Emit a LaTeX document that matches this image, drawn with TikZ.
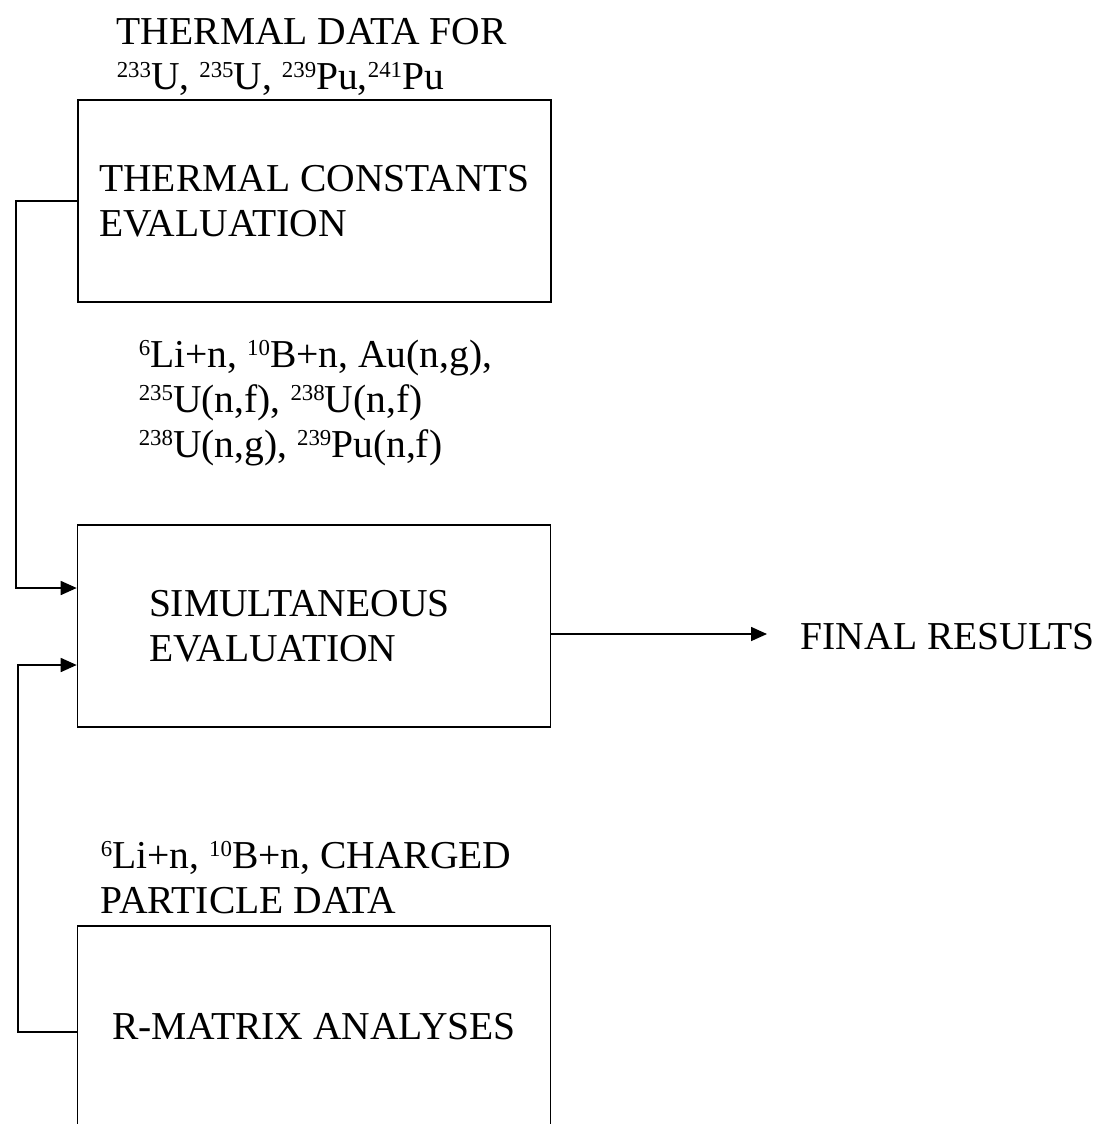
\documentclass[tikz,border=0pt]{standalone}
\usepackage{fontspec}
\setmainfont{Liberation Serif}
\usetikzlibrary{arrows.meta, positioning, calc}

\newcommand{\iso}[1]{\raisebox{6.5pt}{\fontsize{13}{13}\selectfont #1}}

\begin{document}
\begin{tikzpicture}[>={Triangle[length=0.32cm, width=0.28cm]}, line width=0.9pt,
    box/.style={draw, minimum width=9.46cm, minimum height=4.04cm, align=left,
                font=\fontsize{22.5}{25.6}\selectfont},
    lbl/.style={align=left, inner sep=0pt, anchor=base west,
                font=\fontsize{22.5}{25.6}\selectfont}]
  \useasboundingbox (0,0) rectangle (22.08,-22.48);

  % Evaluation boxes
  \node[box] (thermal) at (6.29,-4.02) {THERMAL CONSTANTS\\EVALUATION};
  \node[box, text width=6.6cm] (simul) at (6.28,-12.52) {SIMULTANEOUS\\EVALUATION};
  \node[box] (rmatrix) at (6.28,-20.54) {R-MATRIX ANALYSES};

  % Input data above the boxes (anchored at the last line)
  \node[lbl] (thdata) at (2.32,-1.78)
    {THERMAL DATA FOR\\\iso{233}U, \iso{235}U, \iso{239}Pu,\iso{241}Pu};
  \node[lbl] (stddata) at (2.76,-9.14)
    {\iso{6}Li+n, \iso{10}B+n, Au(n,g),\\\iso{235}U(n,f), \iso{238}U(n,f)\\\iso{238}U(n,g), \iso{239}Pu(n,f)};
  \node[lbl] (cpdata) at (2.00,-18.26)
    {\iso{6}Li+n, \iso{10}B+n, CHARGED\\PARTICLE DATA};

  % Output
  \node[lbl, anchor=west] (final) at (16.0,-12.74) {FINAL RESULTS};
  \coordinate (out) at ($(simul.east)+(0,-0.16)$);
  \draw[->, shorten >=0.66cm] (out) -- (out -| final.west);

  % Feeds into the simultaneous evaluation
  \coordinate (in1) at ($(simul.west)+(0,0.76)$);
  \coordinate (in2) at ($(simul.west)+(0,-0.78)$);
  \coordinate (from3) at ($(rmatrix.west)+(0,-0.10)$);
  \draw[->] (thermal.west) -- ++(-1.22,0) |- (in1);
  \draw[->] (from3) -- ++(-1.17,0) |- (in2);
\end{tikzpicture}
\end{document}
